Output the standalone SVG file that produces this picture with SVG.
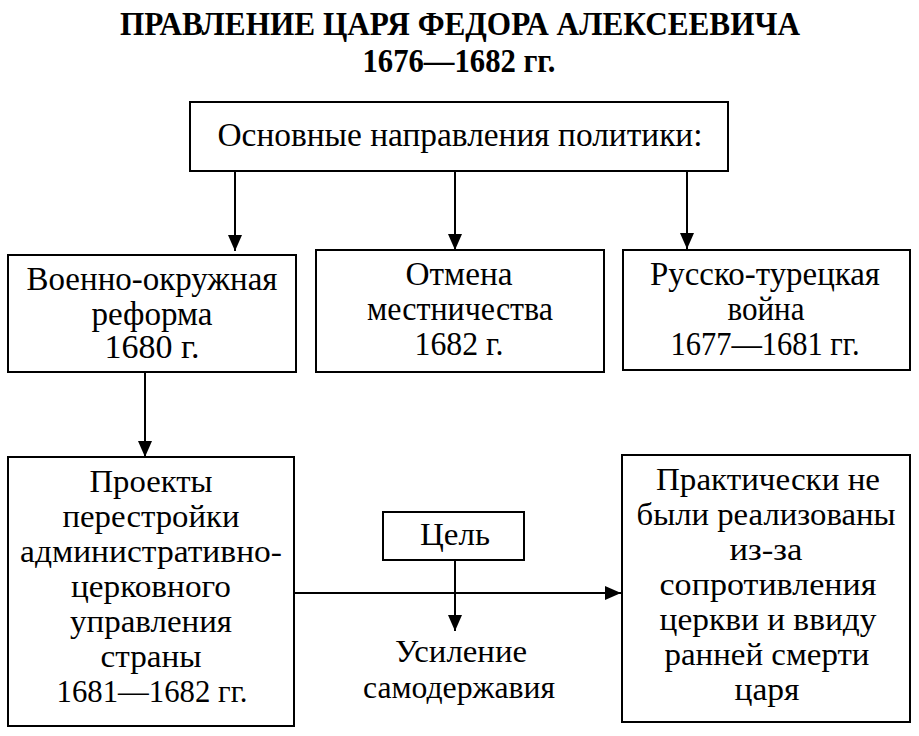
<svg xmlns="http://www.w3.org/2000/svg" width="919" height="736" viewBox="0 0 919 736">
<style>
.box{fill:#fff;stroke:#000;stroke-width:2}
.ln{stroke:#000;stroke-width:2;fill:none}
.t{font-family:"Liberation Serif","DejaVu Serif",serif;font-size:31px;fill:#000;text-anchor:middle}
.c{font-family:"Liberation Serif","DejaVu Serif",serif;font-size:33px;fill:#000;text-anchor:middle}
.h{font-family:"Liberation Serif","DejaVu Serif",serif;font-size:34px;font-weight:bold;fill:#000;text-anchor:middle}
</style>
<defs>
<marker id="arr" viewBox="0 0 16 14" refX="16" refY="7" markerWidth="16" markerHeight="14" markerUnits="userSpaceOnUse" orient="auto">
<path d="M0,0 L16,7 L0,14 Z" fill="#000"/>
</marker>
</defs>
<rect width="919" height="736" fill="#fff"/>
<g id="title">
<text class="h" x="460" y="35" textLength="680" lengthAdjust="spacingAndGlyphs">ПРАВЛЕНИЕ ЦАРЯ ФЕДОРА АЛЕКСЕЕВИЧА</text>
<text class="h" x="459" y="72" textLength="193" lengthAdjust="spacingAndGlyphs">1676—1682 гг.</text>
</g>
<g id="connectors">
<line class="ln" x1="235" y1="171" x2="235" y2="251" marker-end="url(#arr)"/>
<line class="ln" x1="455" y1="171" x2="455" y2="250" marker-end="url(#arr)"/>
<line class="ln" x1="687" y1="171" x2="687" y2="249" marker-end="url(#arr)"/>
<line class="ln" x1="145" y1="372" x2="145" y2="457" marker-end="url(#arr)"/>
<line class="ln" x1="294" y1="593" x2="621" y2="593" marker-end="url(#arr)"/>
<line class="ln" x1="455" y1="560" x2="455" y2="631" marker-end="url(#arr)"/>
</g>
<g id="top">
<rect class="box" x="190" y="102" width="538" height="69"/>
<text class="c" x="460" y="146" textLength="485" lengthAdjust="spacingAndGlyphs">Основные направления политики:</text>
</g>
<g id="military">
<rect class="box" x="8" y="255" width="288" height="117"/>
<text class="c" x="152" y="290" textLength="251" lengthAdjust="spacingAndGlyphs">Военно-окружная</text>
<text class="c" x="152" y="325" textLength="121" lengthAdjust="spacingAndGlyphs">реформа</text>
<text class="c" x="152" y="358" textLength="95" lengthAdjust="spacingAndGlyphs">1680 г.</text>
</g>
<g id="mestnich">
<rect class="box" x="316" y="250" width="288" height="122"/>
<text class="c" x="459" y="285" textLength="107" lengthAdjust="spacingAndGlyphs">Отмена</text>
<text class="c" x="460" y="320" textLength="186" lengthAdjust="spacingAndGlyphs">местничества</text>
<text class="c" x="459" y="355" textLength="89" lengthAdjust="spacingAndGlyphs">1682 г.</text>
</g>
<g id="war">
<rect class="box" x="623" y="250" width="287" height="120"/>
<text class="c" x="765" y="285" textLength="230" lengthAdjust="spacingAndGlyphs">Русско-турецкая</text>
<text class="c" x="766" y="320" textLength="77" lengthAdjust="spacingAndGlyphs">война</text>
<text class="c" x="765" y="355" textLength="189" lengthAdjust="spacingAndGlyphs">1677—1681 гг.</text>
</g>
<g id="projects">
<rect class="box" x="8" y="457" width="286" height="269"/>
<text class="t" x="151" y="492" textLength="123" lengthAdjust="spacingAndGlyphs">Проекты</text>
<text class="t" x="151" y="527" textLength="177" lengthAdjust="spacingAndGlyphs">перестройки</text>
<text class="t" x="151" y="562" textLength="262" lengthAdjust="spacingAndGlyphs">административно-</text>
<text class="t" x="151" y="597" textLength="160" lengthAdjust="spacingAndGlyphs">церковного</text>
<text class="t" x="151" y="632" textLength="162" lengthAdjust="spacingAndGlyphs">управления</text>
<text class="t" x="151" y="667" textLength="101" lengthAdjust="spacingAndGlyphs">страны</text>
<text class="t" x="152" y="702" textLength="191" lengthAdjust="spacingAndGlyphs">1681—1682 гг.</text>
</g>
<g id="goal">
<rect class="box" x="383" y="512" width="141" height="48"/>
<text class="t" x="455" y="545" textLength="70" lengthAdjust="spacingAndGlyphs">Цель</text>
</g>
<g id="result">
<text class="t" x="461" y="662" textLength="132" lengthAdjust="spacingAndGlyphs">Усиление</text>
<text class="t" x="459" y="698" textLength="192" lengthAdjust="spacingAndGlyphs">самодержавия</text>
</g>
<g id="outcome">
<rect class="box" x="622" y="455" width="288" height="267"/>
<text class="t" x="768" y="490" textLength="224" lengthAdjust="spacingAndGlyphs">Практически не</text>
<text class="t" x="766" y="525" textLength="259" lengthAdjust="spacingAndGlyphs">были реализованы</text>
<text class="t" x="766" y="560" textLength="73" lengthAdjust="spacingAndGlyphs">из-за</text>
<text class="t" x="768" y="595" textLength="217" lengthAdjust="spacingAndGlyphs">сопротивления</text>
<text class="t" x="768" y="630" textLength="217" lengthAdjust="spacingAndGlyphs">церкви и ввиду</text>
<text class="t" x="767" y="665" textLength="205" lengthAdjust="spacingAndGlyphs">ранней смерти</text>
<text class="t" x="767" y="700" textLength="65" lengthAdjust="spacingAndGlyphs">царя</text>
</g>
</svg>
